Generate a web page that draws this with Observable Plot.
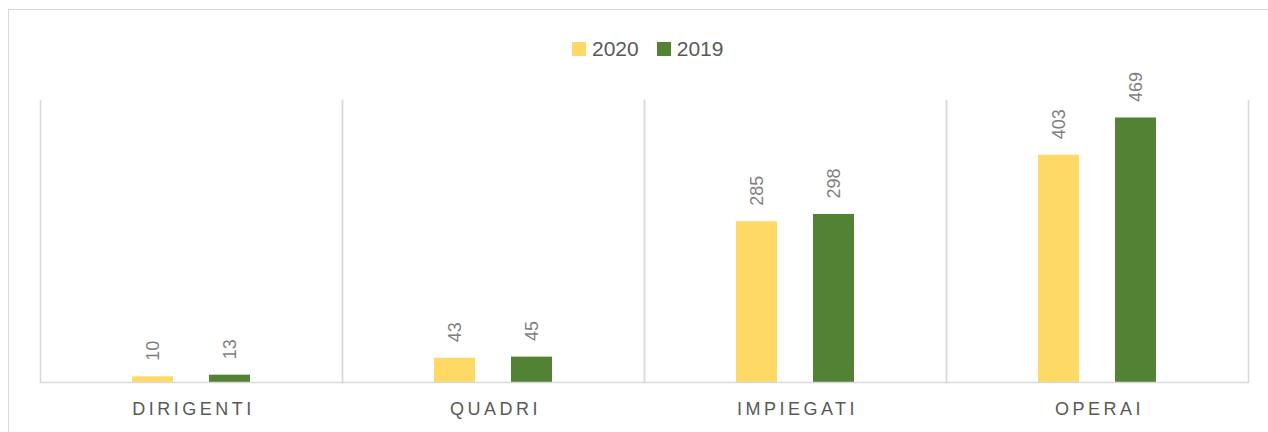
<!DOCTYPE html>
<html><head><meta charset="utf-8">
<script src="https://cdn.jsdelivr.net/npm/d3@7"></script>
<script src="https://cdn.jsdelivr.net/npm/@observablehq/plot@0.6"></script>
<style>
body{margin:0;background:#fff;}
#wrap{position:relative;width:1268px;height:432px;overflow:hidden;font-family:"Liberation Sans",Arial,sans-serif;background:#fff;}
#border{position:absolute;left:8px;top:9px;width:1400px;height:600px;border:1.5px solid #d9d9d9;box-sizing:border-box;}
#legend{position:absolute;top:36px;left:572px;display:flex;align-items:center;font-size:21px;color:#595959;height:26px;}
#legend .sw{width:14px;height:14px;margin-right:6px;}
#legend .it{display:flex;align-items:center;margin-right:18px;}
#chart{position:absolute;left:0;top:0;}
</style></head>
<body>
<div id="wrap"><div id="border"></div><div id="legend"></div><div id="chart"></div></div>
<script>
const categories = ["DIRIGENTI", "QUADRI", "IMPIEGATI", "OPERAI"];
const years = ["2020", "2019"];
const values2020 = [10, 43, 285, 403];
const values2019 = [13, 45, 298, 469];
const colors = ["#FFD966", "#548235"];

const data = [];
categories.forEach((c, i) => {
  data.push({cat: c, year: "2020", value: values2020[i]});
  data.push({cat: c, year: "2019", value: values2019[i]});
});

const legend = document.getElementById("legend");
years.forEach((y, i) => {
  const it = document.createElement("div"); it.className = "it";
  const sw = document.createElement("div"); sw.className = "sw"; sw.style.background = colors[i];
  const t = document.createElement("span"); t.textContent = y;
  it.appendChild(sw); it.appendChild(t); legend.appendChild(it);
});

const chart = Plot.plot({
  width: 1268,
  height: 432,
  marginLeft: 38,
  marginRight: 19,
  marginTop: 100,
  marginBottom: 50,
  style: {background: "transparent", fontFamily: "'Liberation Sans', Arial, sans-serif"},
  fx: {domain: categories, padding: 0, axis: null},
  x: {domain: years, paddingInner: 0.474, paddingOuter: 1.178, axis: null},
  y: {domain: [0, 500], axis: null},
  color: {domain: years, range: colors},
  marks: [
    Plot.frame({anchor: "left", stroke: "#d9d9d9", strokeWidth: 1.5}),
    Plot.frame({anchor: "right", stroke: "#d9d9d9", strokeWidth: 1.5}),
    Plot.barY(data, {fx: "cat", x: "year", y: "value", fill: "year"}),
    Plot.ruleY([0], {stroke: "#d9d9d9", strokeWidth: 1.5}),
    Plot.text(data, {fx: "cat", x: "year", y: "value", text: d => String(d.value), rotate: -90, textAnchor: "start", dy: -16, fontSize: 18, fill: "#7f7f7f"}),
    Plot.axisFx({anchor: "bottom", tickSize: 0, tickPadding: 20, fontSize: 18, fill: "#595959", label: null, dx: 2})
  ]
});
d3.select(chart).selectAll("g[aria-label='fx-axis tick label'] text").style("letter-spacing", "3.5px");
document.getElementById("chart").appendChild(chart);
</script>
</body></html>
